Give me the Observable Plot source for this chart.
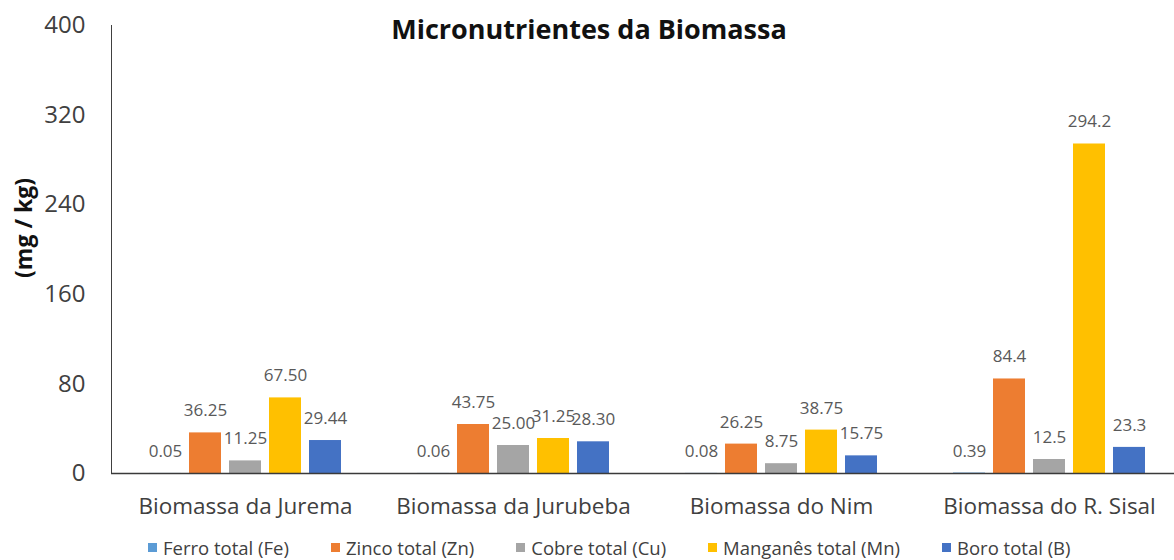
<!DOCTYPE html>
<html>
<head>
<meta charset="utf-8">
<script src="https://cdn.jsdelivr.net/npm/d3@7"></script>
<script src="https://cdn.jsdelivr.net/npm/@observablehq/plot@0.6"></script>
<style>
  html, body { margin: 0; padding: 0; background: #fff; overflow: hidden; }
  #wrap { position: relative; width: 1174px; height: 560px; overflow: hidden; font-family: "Open Sans", sans-serif; }
  #chart { position: absolute; left: 0; top: 0; }
  #title { position: absolute; top: 10px; left: 0; width: 1174px; text-align: center; padding-left: 2px;
           font-weight: bold; font-size: 27px; color: #111; }
  #ylab { position: absolute; left: 23px; top: 228px; transform: translate(-50%, -50%) rotate(-90deg);
          font-weight: bold; font-size: 23px; color: #111; white-space: nowrap; }
  #legend { position: absolute; top: 535px; left: 148px; display: flex; gap: 42px; font-size: 18.5px; color: #404040; }
  .item { display: flex; align-items: center; white-space: nowrap; }
  .sw { width: 9px; height: 9px; margin-right: 6px; }
  g[aria-label="y-axis tick label"] text { font-size: 24px; }
  g[aria-label="fx-axis tick label"] text { font-size: 22.5px; }
</style>
</head>
<body>
<div id="wrap">
  <div id="chart"></div>
  <div id="title">Micronutrientes da Biomassa</div>
  <div id="ylab">(mg / kg)</div>
  <div id="legend"></div>
</div>
<script>
const categories = ["Biomassa da Jurema", "Biomassa da Jurubeba", "Biomassa do Nim", "Biomassa do R. Sisal"];
const series = ["Ferro total (Fe)", "Zinco total (Zn)", "Cobre total (Cu)", "Manganês total (Mn)", "Boro total (B)"];
const ferro = [0.05, 0.06, 0.08, 0.39];
const zinco = [36.25, 43.75, 26.25, 84.4];
const cobre = [11.25, 25.00, 8.75, 12.5];
const manganes = [67.50, 31.25, 38.75, 294.2];
const boro = [29.44, 28.30, 15.75, 23.3];
const ferroLabels = ["0.05", "0.06", "0.08", "0.39"];
const zincoLabels = ["36.25", "43.75", "26.25", "84.4"];
const cobreLabels = ["11.25", "25.00", "8.75", "12.5"];
const manganesLabels = ["67.50", "31.25", "38.75", "294.2"];
const boroLabels = ["29.44", "28.30", "15.75", "23.3"];
const yTicks = [0, 80, 160, 240, 320, 400];
const colors = ["#5B9BD5", "#ED7D31", "#A5A5A5", "#FFC000", "#4472C4"];

const values = [ferro, zinco, cobre, manganes, boro];
const labels = [ferroLabels, zincoLabels, cobreLabels, manganesLabels, boroLabels];
const rows = categories.flatMap((c, i) => series.map((s, j) => ({cat: c, series: s, value: values[j][i], label: labels[j][i]})));

const chart = Plot.plot({
  width: 1174,
  height: 530,
  marginLeft: 110,
  marginRight: -10,
  marginTop: 25,
  marginBottom: 57,
  style: {fontFamily: "Open Sans, sans-serif", color: "#404040", background: "transparent"},
  fx: {domain: categories, padding: 0, label: null, tickSize: 0, tickPadding: 25},
  x: {domain: series, paddingInner: 0.21, paddingOuter: 0.88, axis: null},
  y: {domain: [0, 400], ticks: yTicks, label: null, tickSize: 0, tickPadding: 26, line: true},
  color: {domain: series, range: colors},
  marks: [
    Plot.barY(rows, {fx: "cat", x: "series", y: "value", fill: "series"}),
    Plot.text(rows, {fx: "cat", x: "series", y: "value", text: "label", dy: -22, fill: "#595959", fontSize: 17}),
    Plot.ruleY([0], {stroke: "#3a3a3a", strokeWidth: 1.3})
  ]
});
document.getElementById("chart").appendChild(chart);

const legend = document.getElementById("legend");
series.forEach((s, i) => {
  const item = document.createElement("div");
  item.className = "item";
  const sw = document.createElement("span");
  sw.className = "sw";
  sw.style.background = colors[i];
  const t = document.createElement("span");
  t.textContent = s;
  item.appendChild(sw);
  item.appendChild(t);
  legend.appendChild(item);
});
</script>
</body>
</html>
